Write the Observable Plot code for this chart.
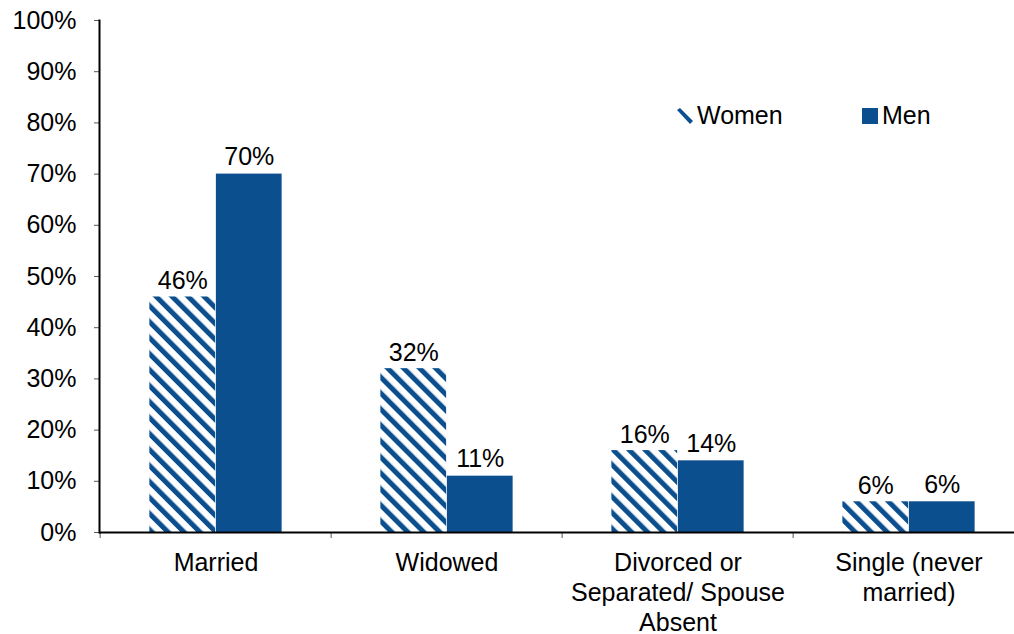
<!DOCTYPE html>
<html>
<head>
<meta charset="utf-8">
<script src="https://cdn.jsdelivr.net/npm/d3@7"></script>
<script src="https://cdn.jsdelivr.net/npm/@observablehq/plot@0.6"></script>
<style>
  html, body { margin: 0; padding: 0; background: #fff; }
  #wrap { position: relative; width: 1014px; height: 634px; font-family: "Liberation Sans", Arial, sans-serif; }
  .legend { position: absolute; top: 101px; display: flex; align-items: center; font-size: 25px; color: #000; }
  .legend svg { margin-right: 4px; }
</style>
</head>
<body>
<svg width="0" height="0" style="position:absolute">
  <defs>
    <pattern id="hatch" patternUnits="userSpaceOnUse" width="11.3" height="11.3" patternTransform="rotate(-45)">
      <rect width="11.3" height="11.3" fill="#ffffff"></rect>
      <rect width="5" height="11.3" fill="#0c4f8f"></rect>
    </pattern>
  </defs>
</svg>
<div id="wrap">
  <div id="chart"></div>
  <div class="legend" style="left:677px"><svg width="16" height="16"><polygon points="0,2 3,0 16,13 13,16" fill="#0c4f8f"></polygon></svg>Women</div>
  <div class="legend" style="left:862px"><svg width="16" height="16"><rect width="16" height="16" fill="#0c4f8f"></rect></svg>Men</div>
</div>
<script>
const categories = ["Married", "Widowed", "Divorced or\nSeparated/ Spouse\nAbsent", "Single (never\nmarried)"];
const women = [46, 32, 16, 6];
const men = [70, 11, 14, 6];
const yTicks = [0, 10, 20, 30, 40, 50, 60, 70, 80, 90, 100];

const blue = "#0c4f8f";
const rows = categories.map((c, i) => ({category: c, women: women[i] / 100, men: men[i] / 100}));

const step = (1026 - 99) / categories.length;
const half = step / 2;
const barW = 66.5;

const chart = Plot.plot({
  width: 1014,
  height: 634,
  marginLeft: 99,
  marginRight: 0,
  marginTop: 20,
  marginBottom: 102,
  style: {fontFamily: "'Liberation Sans', Arial, sans-serif", fontSize: "25px", color: "#000", background: "#fff"},
  x: {domain: categories, range: [98, 1025], padding: 0},
  y: {domain: [0, 1]},
  marks: [
    Plot.barY(rows, {x: "category", y: "women", fill: "url(#hatch)", insetLeft: half - barW, insetRight: half}),
    Plot.barY(rows, {x: "category", y: "men", fill: blue, insetLeft: half, insetRight: half - barW}),
    Plot.text(rows, {x: "category", y: "women", text: d => Math.round(d.women * 100) + "%", dx: -barW / 2, dy: -8, lineAnchor: "bottom", fontSize: 25, fill: "#000"}),
    Plot.text(rows, {x: "category", y: "men", text: d => Math.round(d.men * 100) + "%", dx: barW / 2, dy: -9, lineAnchor: "bottom", fontSize: 25, fill: "#000"}),
    Plot.axisY({ticks: yTicks.map(v => v / 100), tickFormat: d => Math.round(d * 100) + "%", tickSize: 5, tickPadding: 18, fontSize: 25, stroke: "#555", label: null}),
    Plot.axisX({tickSize: 0, tickPadding: 17, fontSize: 25, lineHeight: 1.2, label: null}),
    Plot.ruleX(categories, {x: d => d, dx: -half, y1: 0, y2: 0, insetBottom: -6, stroke: "#555"}),
    Plot.ruleY([0], {stroke: "#000", strokeWidth: 2}),
    Plot.frame({anchor: "left", stroke: "#000", strokeWidth: 2})
  ]
});
document.getElementById("chart").appendChild(chart);
</script>
</body>
</html>
